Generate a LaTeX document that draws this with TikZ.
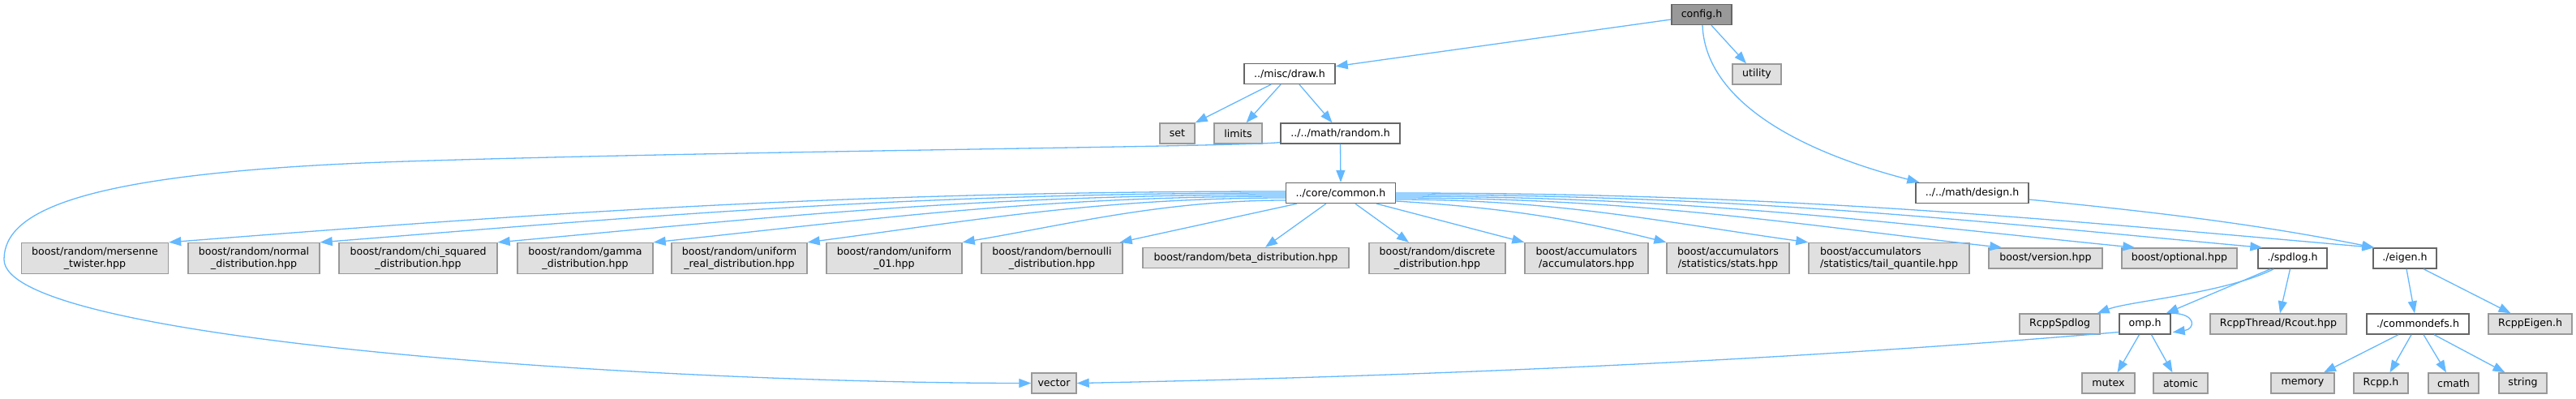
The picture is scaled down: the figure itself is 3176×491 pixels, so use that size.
\documentclass[tikz,border=0pt]{standalone}
\usepackage{fontspec}
\setmainfont{DejaVu Sans}
\usetikzlibrary{arrows.meta,calc}
\definecolor{edgec}{HTML}{63B8FF}
\definecolor{gfill}{HTML}{E0E0E0}
\definecolor{gdraw}{HTML}{999999}
\definecolor{wdraw}{HTML}{666666}
\definecolor{rootfill}{HTML}{999999}
\begin{document}
\begin{tikzpicture}[x=1pt,y=-1pt,
  box/.style={draw, line width=1.4pt, inner sep=0pt, font=\fontsize{12.6}{15}\selectfont, align=center, text=black, minimum height=25pt},
  sys/.style={box, fill=gfill, draw=gdraw},
  usr/.style={box, fill=white, draw=wdraw},
  rootbox/.style={box, fill=rootfill, draw=wdraw},
  tall/.style={minimum height=38pt},
  conn/.style={draw=edgec, line width=1.3pt, -{Triangle[length=15pt,width=11pt]}},
]
\useasboundingbox (0,0) rectangle (3176,491);
% row 0-3
\node[rootbox, minimum width=74pt] (config) at (2098,18) {config.h};
\node[usr, minimum width=112pt] (draw) at (1590,91) {../misc/draw.h};
\node[sys, minimum width=60pt] (utility) at (2166,91.5) {utility};
\node[sys, minimum width=43pt] (set) at (1451.5,164.5) {set};
\node[sys, minimum width=59pt] (limits) at (1526.5,164.5) {limits};
\node[usr, minimum width=147pt] (random) at (1652.5,164.5) {../../math/random.h};
\node[usr, minimum width=135pt] (common) at (1653,238) {../core/common.h};
\node[usr, minimum width=139pt] (design) at (2431.5,238) {../../math/design.h};
% row 4
\node[sys, tall, minimum width=181pt] (mersenne) at (117,318.5) {boost/random/mersenne\\\_twister.hpp};
\node[sys, tall, minimum width=162pt] (normal) at (313,318.5) {boost/random/normal\\\_distribution.hpp};
\node[sys, tall, minimum width=195pt] (chi) at (515.5,318.5) {boost/random/chi\_squared\\\_distribution.hpp};
\node[sys, tall, minimum width=167pt] (gamma) at (721.5,318.5) {boost/random/gamma\\\_distribution.hpp};
\node[sys, tall, minimum width=167pt] (ureal) at (911.5,318.5) {boost/random/uniform\\\_real\_distribution.hpp};
\node[sys, tall, minimum width=167pt] (u01) at (1102.5,318.5) {boost/random/uniform\\\_01.hpp};
\node[sys, tall, minimum width=174pt] (bern) at (1297,318.5) {boost/random/bernoulli\\\_distribution.hpp};
\node[sys, minimum width=254pt] (beta) at (1536,318) {boost/random/beta\_distribution.hpp};
\node[sys, tall, minimum width=168pt] (discrete) at (1772,318.5) {boost/random/discrete\\\_distribution.hpp};
\node[sys, tall, minimum width=152pt] (acc) at (1956,318.5) {boost/accumulators\\/accumulators.hpp};
\node[sys, tall, minimum width=151pt] (stats) at (2130.5,318.5) {boost/accumulators\\/statistics/stats.hpp};
\node[sys, tall, minimum width=198pt, align=left] (tail) at (2329,318.5) {boost/accumulators\\/statistics/tail\_quantile.hpp};
\node[sys, minimum width=140pt] (version) at (2522,318.5) {boost/version.hpp};
\node[sys, minimum width=142pt] (optional) at (2687,318.5) {boost/optional.hpp};
\node[usr, minimum width=85pt] (spdlog) at (2826.5,318.5) {./spdlog.h};
\node[usr, minimum width=78pt] (eigen) at (2965,318.5) {./eigen.h};
% row 5
\node[sys, minimum width=99pt] (rspd) at (2539.5,399.5) {RcppSpdlog};
\node[usr, minimum width=63pt] (omp) at (2644.5,399.5) {omp.h};
\node[sys, minimum width=168pt] (rcout) at (2809,399.5) {RcppThread/Rcout.hpp};
\node[usr, minimum width=126pt] (cdefs) at (2981,399.5) {./commondefs.h};
\node[sys, minimum width=103pt] (reigen) at (3119.5,399.5) {RcppEigen.h};
% row 6
\node[sys, minimum width=55pt] (vector) at (1299.5,472.5) {vector};
\node[sys, minimum width=65pt] (mutex) at (2599.5,472.5) {mutex};
\node[sys, minimum width=67pt] (atomic) at (2688.5,472.5) {atomic};
\node[sys, minimum width=78pt] (memory) at (2839,472.5) {memory};
\node[sys, minimum width=67pt] (rcpph) at (2935.5,472.5) {Rcpp.h};
\node[sys, minimum width=62pt] (cmath) at (3025,472.5) {cmath};
\node[sys, minimum width=59pt] (string) at (3110.5,472.5) {string};
% edges
\draw[conn] ($(config.west)+(0,6)$) -- ($(draw.north east)+(0,4)$);
\draw[conn] ($(config.south)+(12,0)$) -- ($(utility.north)+(-13,0)$);
\draw[conn] ($(config.south)+(1,0)$) .. controls +(3,80) and +(-177,-46) .. ($(design.north west)+(5,0)$);
\draw[conn] ($(draw.south)+(-23,0)$) -- (set.north east);
\draw[conn] ($(draw.south)+(-11,0)$) -- ($(limits.north)+(10,0)$);
\draw[conn] ($(draw.south)+(12,0)$) -- ($(random.north)+(-10,0)$);
\draw[conn] (random.south) -- (common.north);
\draw[conn] ($(random.west)+(0,11)$) .. controls (1540,181) and (900,186) .. (500,199) .. controls (100,212) and (5,260) .. (5,320) .. controls (5,420) and (800,472) .. (vector.west);
\draw[conn] ($(common.west)+(0,-2)$) .. controls +(-550,0) and +(450,-35) .. (mersenne.north east);
\draw[conn] (common.west) .. controls +(-480,0) and +(380,-30) .. (normal.north east);
\draw[conn] ($(common.west)+(0,2)$) .. controls +(-390,0) and +(310,-28) .. (chi.north east);
\draw[conn] ($(common.west)+(0,4)$) .. controls +(-310,0) and +(250,-26) .. (gamma.north east);
\draw[conn] ($(common.west)+(0,6)$) .. controls +(-230,0) and +(190,-25) .. (ureal.north east);
\draw[conn] ($(common.west)+(0,9)$) .. controls +(-150,0) and +(130,-22) .. (u01.north east);
\draw[conn] ($(common.south west)+(14,0)$) -- ($(bern.north east)+(-4,0)$);
\draw[conn] ($(common.south west)+(50,0)$) -- ($(beta.north)+(24,0)$);
\draw[conn] ($(common.south)+(18,0)$) -- ($(discrete.north)+(-35,0)$);
\draw[conn] ($(common.south east)+(-24,0)$) -- (acc.north west);
\draw[conn] ($(common.east)+(0,10)$) .. controls +(130,8) and +(-120,-30) .. (stats.north west);
\draw[conn] ($(common.east)+(0,8)$) .. controls +(200,0) and +(-180,-25) .. (tail.north west);
\draw[conn] ($(common.east)+(0,6)$) .. controls +(300,0) and +(-250,-28) .. ($(version.north west)+(17,0)$);
\draw[conn] ($(common.east)+(0,4)$) .. controls +(360,0) and +(-300,-30) .. ($(optional.north west)+(17,0)$);
\draw[conn] ($(common.east)+(0,2)$) .. controls +(430,0) and +(-350,-32) .. ($(spdlog.north west)+(6,0)$);
\draw[conn] (common.east) .. controls +(480,0) and +(-400,-35) .. ($(eigen.north west)+(2,0)$);
\draw[conn] ($(design.east)+(0,8)$) .. controls +(150,15) and +(-150,-30) .. ($(eigen.north west)+(2,0)$);
\draw[conn] ($(spdlog.south west)+(20,0)$) .. controls +(-60,30) and +(40,-15) .. ($(rspd.north east)+(-4,0)$);
\draw[conn] ($(spdlog.south west)+(16,0)$) -- ($(omp.north east)+(-6,0)$);
\draw[conn] ($(spdlog.south)+(-3,0)$) -- ($(rcout.north)+(2,0)$);
\draw[conn] (omp.north east) .. controls +(32,0) and +(28,-4) .. ($(omp.south east)+(2,-3)$);
\draw[conn] ($(omp.south)+(-7,0)$) -- ($(mutex.north)+(11,0)$);
\draw[conn] ($(omp.south)+(8,0)$) -- ($(atomic.north)+(-10,0)$);
\draw[conn] ($(omp.west)+(0,10)$) .. controls +(-350,30) and +(500,-10) .. (vector.east);
\draw[conn] ($(eigen.south)+(2,0)$) -- ($(cdefs.north)+(-4,0)$);
\draw[conn] ($(eigen.south)+(23,0)$) -- ($(reigen.north)+(-24,0)$);
\draw[conn] ($(cdefs.south)+(-24,0)$) -- ($(memory.north)+(26,0)$);
\draw[conn] ($(cdefs.south)+(-8,0)$) -- ($(rcpph.north)+(11,0)$);
\draw[conn] ($(cdefs.south)+(7,0)$) -- ($(cmath.north)+(-9,0)$);
\draw[conn] ($(cdefs.south)+(20,0)$) -- ($(string.north)+(-22,0)$);
\end{tikzpicture}
\end{document}
